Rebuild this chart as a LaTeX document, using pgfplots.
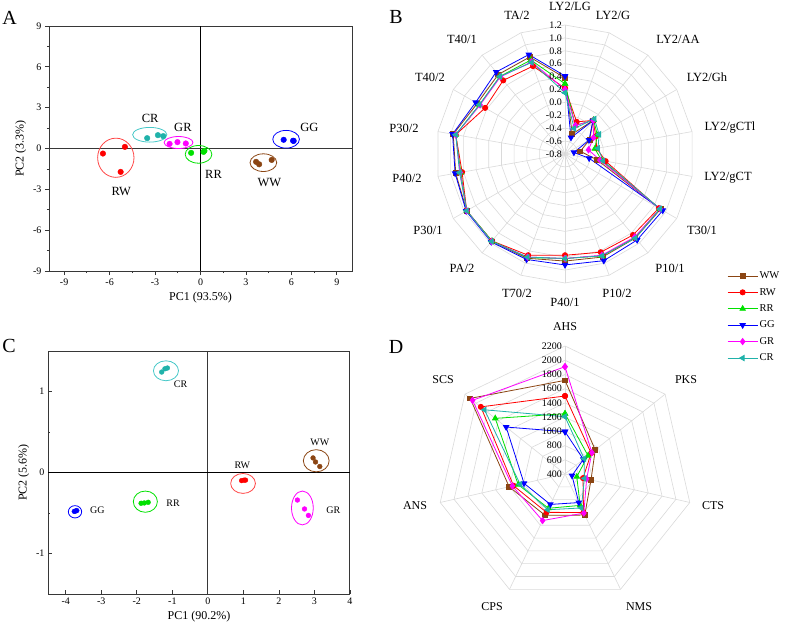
\documentclass[border=0pt]{standalone}
\usepackage{fontspec}
\setmainfont{Liberation Serif}
\usepackage{pgfplots}
\usepackage{pgfplotstable}
\pgfplotsset{compat=1.18}
\pgfplotsset{/pgf/number format/assume math mode=true}

\definecolor{cWW}{RGB}{139,69,19}
\definecolor{cRW}{RGB}{255,0,0}
\definecolor{cRR}{RGB}{0,225,0}
\definecolor{cGG}{RGB}{0,0,255}
\definecolor{cGR}{RGB}{255,0,255}
\definecolor{cCR}{RGB}{32,178,170}
\definecolor{eCR}{RGB}{70,200,200}
\definecolor{eRW}{RGB}{255,70,70}
\definecolor{gridc}{RGB}{218,218,218}
\definecolor{framec}{RGB}{55,55,55}

\newcommand{\fs}[1]{\fontsize{#1}{#1}\selectfont}

% Radar B: a = angle (deg), values per group
\pgfplotstableread{
a     WW     RW     RR     GG     GR     CR
90    0.38   0.22   0.29   0.41   0.20   0.15
70   -0.47  -0.27  -0.33  -0.53  -0.33  -0.38
50   -0.12  -0.12  -0.11  -0.13  -0.12  -0.09
30   -0.36  -0.25  -0.22  -0.37  -0.29  -0.19
10   -0.56  -0.30  -0.33  -0.66  -0.43  -0.28
-10  -0.30  -0.16  -0.22  -0.42  -0.25  -0.20
-30   0.91   0.88   0.90   0.95   0.90   0.90
-50   0.90   0.84   0.89   0.94   0.88   0.90
-70   0.90   0.82   0.88   0.96   0.87   0.88
-90   0.86   0.77   0.82   0.92   0.82   0.82
-110  0.92   0.87   0.91   0.94   0.90   0.90
-130  0.97   0.96   0.96   0.98   0.97   0.97
-150  0.96   0.96   0.96   0.97   0.96   0.96
-170  0.92   0.82   0.84   0.93   0.85   0.86
-190  0.96   0.92   0.92   0.97   0.92   0.92
-210  0.77   0.63   0.73   0.80   0.72   0.73
-230  0.81   0.69   0.77   0.86   0.76   0.77
-250  0.80   0.65   0.75   0.84   0.72   0.71
-270  0.38   0.22   0.29   0.41   0.20   0.15
}\radB

% Radar D
\pgfplotstableread{
a          WW     RW     RR     GG     GR     CR
90         1717   1497   1248   995    1909   1206
38.5714    944    870    814    730    883    745
-12.8571   775    660    570    501    712    680
-64.2857   1041   1000   890    846    1010   930
-115.7143  1045   999    935    875    1127   958
-167.1429  1206   1142   1075   991    1159   1047
-218.5714  2106   1914   1655   1459   2063   1848
-270       1717   1497   1248   995    1909   1206
}\radD

\pgfplotsset{
  pca/.style={scale only axis, anchor=south west, clip=false,
    axis line style={framec, line width=1pt},
    every tick/.style={framec, line width=0.8pt},
    tick pos=left, major tick length=4pt, minor tick length=2.2pt,
    tick label style={font=\fs{10}},
    label style={font=\fs{12}}},
  radar/.style={anchor=south west, hide axis, clip=false},
  sWW/.style={cWW, line width=0.8pt, mark=square*, mark size=2.4pt, mark options={solid, fill=cWW}},
  sRW/.style={cRW, line width=0.8pt, mark=*, mark size=2.6pt, mark options={solid, fill=cRW}},
  sRR/.style={cRR, line width=0.8pt, mark=triangle*, mark size=3.1pt, mark options={solid, fill=cRR}},
  sGG/.style={cGG, line width=0.8pt, mark=triangle*, mark size=3.1pt, mark options={solid, fill=cGG, rotate=180}},
  sGR/.style={cGR, line width=0.8pt, mark=diamond*, mark size=3.1pt, mark options={solid, fill=cGR}},
  sCR/.style={cCR, line width=0.8pt, mark=triangle*, mark size=3.1pt, mark options={solid, fill=cCR, rotate=90}},
}

\begin{document}
\begin{tikzpicture}
\useasboundingbox (0,0) rectangle (787pt,-631pt);

% ---------------- Panel A ----------------
\begin{axis}[pca, at={(49pt,-271pt)}, width=303pt, height=245pt,
  xmin=-10, xmax=10, ymin=-9, ymax=9,
  xtick={-9,-6,-3,0,3,6,9}, ytick={-9,-6,-3,0,3,6,9},
  minor xtick={-7.5,-4.5,-1.5,1.5,4.5,7.5}, minor ytick={-7.5,-4.5,-1.5,1.5,4.5,7.5},
  tick align=outside,
  xlabel={PC1 (93.5\%)}, ylabel={PC2 (3.3\%)}]
\draw[black, line width=0.9pt] (axis cs:0,-9) -- (axis cs:0,9);
\draw[framec, line width=1.2pt] (axis cs:-10,0) -- (axis cs:10,0);
\addplot[only marks, mark=*, mark size=2.8pt, cCR] coordinates {(-3.52,0.76) (-2.81,0.98) (-2.46,0.91)};
\addplot[only marks, mark=*, mark size=2.8pt, cGR] coordinates {(-2.04,0.34) (-1.52,0.47) (-0.97,0.37)};
\addplot[only marks, mark=*, mark size=2.8pt, cRR] coordinates {(-0.62,-0.32) (0.20,-0.25) (0.26,-0.17)};
\addplot[only marks, mark=*, mark size=2.8pt, cRW] coordinates {(-6.44,-0.37) (-4.99,0.12) (-5.27,-1.72)};
\addplot[only marks, mark=*, mark size=2.8pt, cWW] coordinates {(3.67,-0.98) (3.87,-1.16) (4.70,-0.84)};
\addplot[only marks, mark=*, mark size=2.8pt, cGG] coordinates {(5.49,0.64) (6.11,0.57) (6.15,0.56)};
\draw[eCR, line width=0.8pt] (axis cs:-3.35,1.01) ellipse [x radius=1.13, y radius=0.54];
\draw[cGR, line width=0.8pt] (axis cs:-1.45,0.44) ellipse [x radius=0.95, y radius=0.44];
\draw[cRR, line width=0.8pt] (axis cs:-0.13,-0.43) ellipse [x radius=0.88, y radius=0.65];
\draw[eRW, line width=0.8pt] (axis cs:-5.59,-0.68) ellipse [x radius=1.20, y radius=1.44];
\draw[cWW, line width=0.8pt] (axis cs:4.15,-1.04) ellipse [x radius=0.88, y radius=0.65];
\draw[cGG, line width=0.8pt] (axis cs:5.65,0.68) ellipse [x radius=0.88, y radius=0.65];
\node[font=\fs{12.5}] at (axis cs:-3.32,2.24) {CR};
\node[font=\fs{12.5}] at (axis cs:-1.16,1.55) {GR};
\node[font=\fs{12.5}] at (axis cs:0.86,-1.89) {RR};
\node[font=\fs{12.5}] at (axis cs:-5.23,-3.15) {RW};
\node[font=\fs{12.5}] at (axis cs:4.55,-2.51) {WW};
\node[font=\fs{12.5}] at (axis cs:7.19,1.57) {GG};
\end{axis}

% ---------------- Panel C ----------------
\begin{axis}[pca, at={(48pt,-594pt)}, width=302pt, height=243pt,
  xmin=-4.5, xmax=4, ymin=-1.5, ymax=1.5,
  xtick={-4,-3,-2,-1,0,1,2,3,4}, ytick={-1,0,1},
  minor ytick={-0.5,0.5},
  tick align=inside,
  xlabel={PC1 (90.2\%)}, ylabel={PC2 (5.6\%)}]
\draw[framec, line width=0.9pt] (axis cs:0,-1.5) -- (axis cs:0,1.5);
\draw[black, line width=1pt] (axis cs:-4.5,0) -- (axis cs:4,0);
\addplot[only marks, mark=*, mark size=2.4pt, cCR] coordinates {(-1.30,1.24) (-1.21,1.28) (-1.14,1.29)};
\addplot[only marks, mark=*, mark size=2.4pt, cGG] coordinates {(-3.76,-0.48) (-3.72,-0.475) (-3.69,-0.47)};
\addplot[only marks, mark=*, mark size=2.4pt, cRR] coordinates {(-1.88,-0.38) (-1.79,-0.376) (-1.68,-0.368)};
\addplot[only marks, mark=*, mark size=2.4pt, cRW] coordinates {(0.95,-0.10) (1.02,-0.094) (1.06,-0.094)};
\addplot[only marks, mark=*, mark size=2.4pt, cWW] coordinates {(2.96,0.18) (3.03,0.13) (3.15,0.074)};
\addplot[only marks, mark=*, mark size=2.4pt, cGR] coordinates {(2.52,-0.34) (2.72,-0.45) (2.83,-0.53)};
\draw[eCR, line width=0.8pt] (axis cs:-1.18,1.256) ellipse [x radius=0.353, y radius=0.123];
\draw[cGG, line width=0.8pt] (axis cs:-3.74,-0.485) ellipse [x radius=0.188, y radius=0.076];
\draw[cRR, line width=0.8pt] (axis cs:-1.76,-0.36) ellipse [x radius=0.339, y radius=0.131];
\draw[eRW, line width=0.8pt] (axis cs:0.99,-0.135) ellipse [x radius=0.348, y radius=0.123];
\draw[cWW, line width=0.8pt] (axis cs:3.05,0.145) ellipse [x radius=0.363, y radius=0.137];
\draw[cGR, line width=0.8pt] (axis cs:2.66,-0.438) ellipse [x radius=0.306, y radius=0.209];
\node[font=\fs{10}] at (axis cs:-0.77,1.088) {CR};
\node[font=\fs{10}] at (axis cs:-3.11,-0.47) {GG};
\node[font=\fs{10}] at (axis cs:-0.98,-0.38) {RR};
\node[font=\fs{10}] at (axis cs:0.97,0.09) {RW};
\node[font=\fs{10}] at (axis cs:3.15,0.376) {WW};
\node[font=\fs{10}] at (axis cs:3.53,-0.47) {GR};
\end{axis}

% ---------------- Panel B (radar) ----------------
\begin{axis}[radar, at={(423.1pt,-295.9pt)}, x=64.5pt, y=64.5pt,
  xmin=-2.2, xmax=2.2, ymin=-2.2, ymax=2.2,
  legend style={at={(1.071,0.091)}, anchor=north west, draw=none, fill=none,
    font=\fs{10.5}, row sep=5pt, inner sep=0pt, nodes={inner sep=1.5pt}},
  legend cell align=left,
  legend image code/.code={\draw[mark repeat=2, mark phase=2] plot coordinates {(0pt,0pt) (15pt,0pt) (30pt,0pt)};}]
\pgfplotsinvokeforeach{0.2,0.4,0.6,0.8,1.0,1.2,1.4,1.6,1.8,2.0}{
  \addplot[gridc, line width=0.6pt, forget plot] table[x expr={#1*cos(\thisrow{a})}, y expr={#1*sin(\thisrow{a})}] {\radB};
}
\pgfplotsinvokeforeach{90,70,50,30,10,-10,-30,-50,-70,-90,-110,-130,-150,-170,-190,-210,-230,-250}{
  \draw[gridc, line width=0.6pt] (axis cs:0,0) -- (axis cs:{2*cos(#1)},{2*sin(#1)});
}
\addplot[sWW] table[x expr={(\thisrow{WW}+0.8)*cos(\thisrow{a})}, y expr={(\thisrow{WW}+0.8)*sin(\thisrow{a})}] {\radB};
\addlegendentry{WW}
\addplot[sRW] table[x expr={(\thisrow{RW}+0.8)*cos(\thisrow{a})}, y expr={(\thisrow{RW}+0.8)*sin(\thisrow{a})}] {\radB};
\addlegendentry{RW}
\addplot[sRR] table[x expr={(\thisrow{RR}+0.8)*cos(\thisrow{a})}, y expr={(\thisrow{RR}+0.8)*sin(\thisrow{a})}] {\radB};
\addlegendentry{RR}
\addplot[sGG] table[x expr={(\thisrow{GG}+0.8)*cos(\thisrow{a})}, y expr={(\thisrow{GG}+0.8)*sin(\thisrow{a})}] {\radB};
\addlegendentry{GG}
\addplot[sGR] table[x expr={(\thisrow{GR}+0.8)*cos(\thisrow{a})}, y expr={(\thisrow{GR}+0.8)*sin(\thisrow{a})}] {\radB};
\addlegendentry{GR}
\addplot[sCR] table[x expr={(\thisrow{CR}+0.8)*cos(\thisrow{a})}, y expr={(\thisrow{CR}+0.8)*sin(\thisrow{a})}] {\radB};
\addlegendentry{CR}
\end{axis}

% ---------------- Panel D (radar) ----------------
\begin{axis}[radar, at={(422.78pt,-616.22pt)}, x=71.11pt, y=71.11pt,
  xmin=-2, xmax=2, ymin=-2, ymax=2]
\pgfplotsinvokeforeach{0.2,0.4,0.6,0.8,1.0,1.2,1.4,1.6,1.8}{
  \addplot[gridc, line width=0.6pt, forget plot] table[x expr={#1*cos(\thisrow{a})}, y expr={#1*sin(\thisrow{a})}] {\radD};
}
\pgfplotsinvokeforeach{90,38.5714,-12.8571,-64.2857,-115.7143,-167.1429,-218.5714}{
  \draw[gridc, line width=0.6pt] (axis cs:0,0) -- (axis cs:{1.8*cos(#1)},{1.8*sin(#1)});
}
\addplot[sWW] table[x expr={(\thisrow{WW}-400)/1000*cos(\thisrow{a})}, y expr={(\thisrow{WW}-400)/1000*sin(\thisrow{a})}] {\radD};
\addplot[sRW] table[x expr={(\thisrow{RW}-400)/1000*cos(\thisrow{a})}, y expr={(\thisrow{RW}-400)/1000*sin(\thisrow{a})}] {\radD};
\addplot[sRR] table[x expr={(\thisrow{RR}-400)/1000*cos(\thisrow{a})}, y expr={(\thisrow{RR}-400)/1000*sin(\thisrow{a})}] {\radD};
\addplot[sGG] table[x expr={(\thisrow{GG}-400)/1000*cos(\thisrow{a})}, y expr={(\thisrow{GG}-400)/1000*sin(\thisrow{a})}] {\radD};
\addplot[sGR] table[x expr={(\thisrow{GR}-400)/1000*cos(\thisrow{a})}, y expr={(\thisrow{GR}-400)/1000*sin(\thisrow{a})}] {\radD};
\addplot[sCR] table[x expr={(\thisrow{CR}-400)/1000*cos(\thisrow{a})}, y expr={(\thisrow{CR}-400)/1000*sin(\thisrow{a})}] {\radD};
\end{axis}

% ---------------- Radar annotations ----------------
\begin{scope}[every node/.style={font=\fs{10}, anchor=east, inner sep=0pt}]
\foreach \y/\t in {154/-0.8, 141.1/-0.6, 128.2/-0.4, 115.3/-0.2, 102.4/0.0, 89.5/0.2, 76.6/0.4, 63.7/0.6, 50.8/0.8, 37.9/1.0, 25/1.2}
  \node at (562pt,-\y pt) {\t};
\foreach \y/\t in {474/400, 459.8/600, 445.6/800, 431.3/1000, 417.1/1200, 402.9/1400, 388.7/1600, 374.4/1800, 360.2/2000, 346/2200}
  \node at (562pt,-\y pt) {\t};
\end{scope}
\begin{scope}[every node/.style={font=\fs{12.5}, inner sep=0pt}]
\node at (570pt,-6pt) {LY2/LG};
\node at (613pt,-15pt) {LY2/G};
\node at (678pt,-39pt) {LY2/AA};
\node at (707pt,-77pt) {LY2/Gh};
\node at (730pt,-128pt) {LY2/gCTl};
\node at (728pt,-178pt) {LY2/gCT};
\node at (702pt,-230pt) {T30/1};
\node at (670pt,-268pt) {P10/1};
\node at (617pt,-293pt) {P10/2};
\node at (565pt,-302pt) {P40/1};
\node at (517pt,-293pt) {T70/2};
\node at (462pt,-268pt) {PA/2};
\node at (428pt,-230pt) {P30/1};
\node at (407pt,-178pt) {P40/2};
\node at (404pt,-128pt) {P30/2};
\node at (430pt,-77pt) {T40/2};
\node at (462pt,-39pt) {T40/1};
\node at (517pt,-15pt) {TA/2};
\end{scope}
\begin{scope}[every node/.style={font=\fs{12}, inner sep=0pt}]
\node at (565pt,-327pt) {AHS};
\node at (686pt,-380pt) {PKS};
\node at (713pt,-506pt) {CTS};
\node at (639pt,-607pt) {NMS};
\node at (492pt,-607pt) {CPS};
\node at (415pt,-506pt) {ANS};
\node at (443pt,-380pt) {SCS};
\end{scope}

% panel letters
\begin{scope}[every node/.style={font=\fs{20}, inner sep=0pt}]
\node at (9.5pt,-18pt) {A};
\node at (396pt,-17pt) {B};
\node at (9pt,-346pt) {C};
\node at (396pt,-347pt) {D};
\end{scope}
\end{tikzpicture}
\end{document}
